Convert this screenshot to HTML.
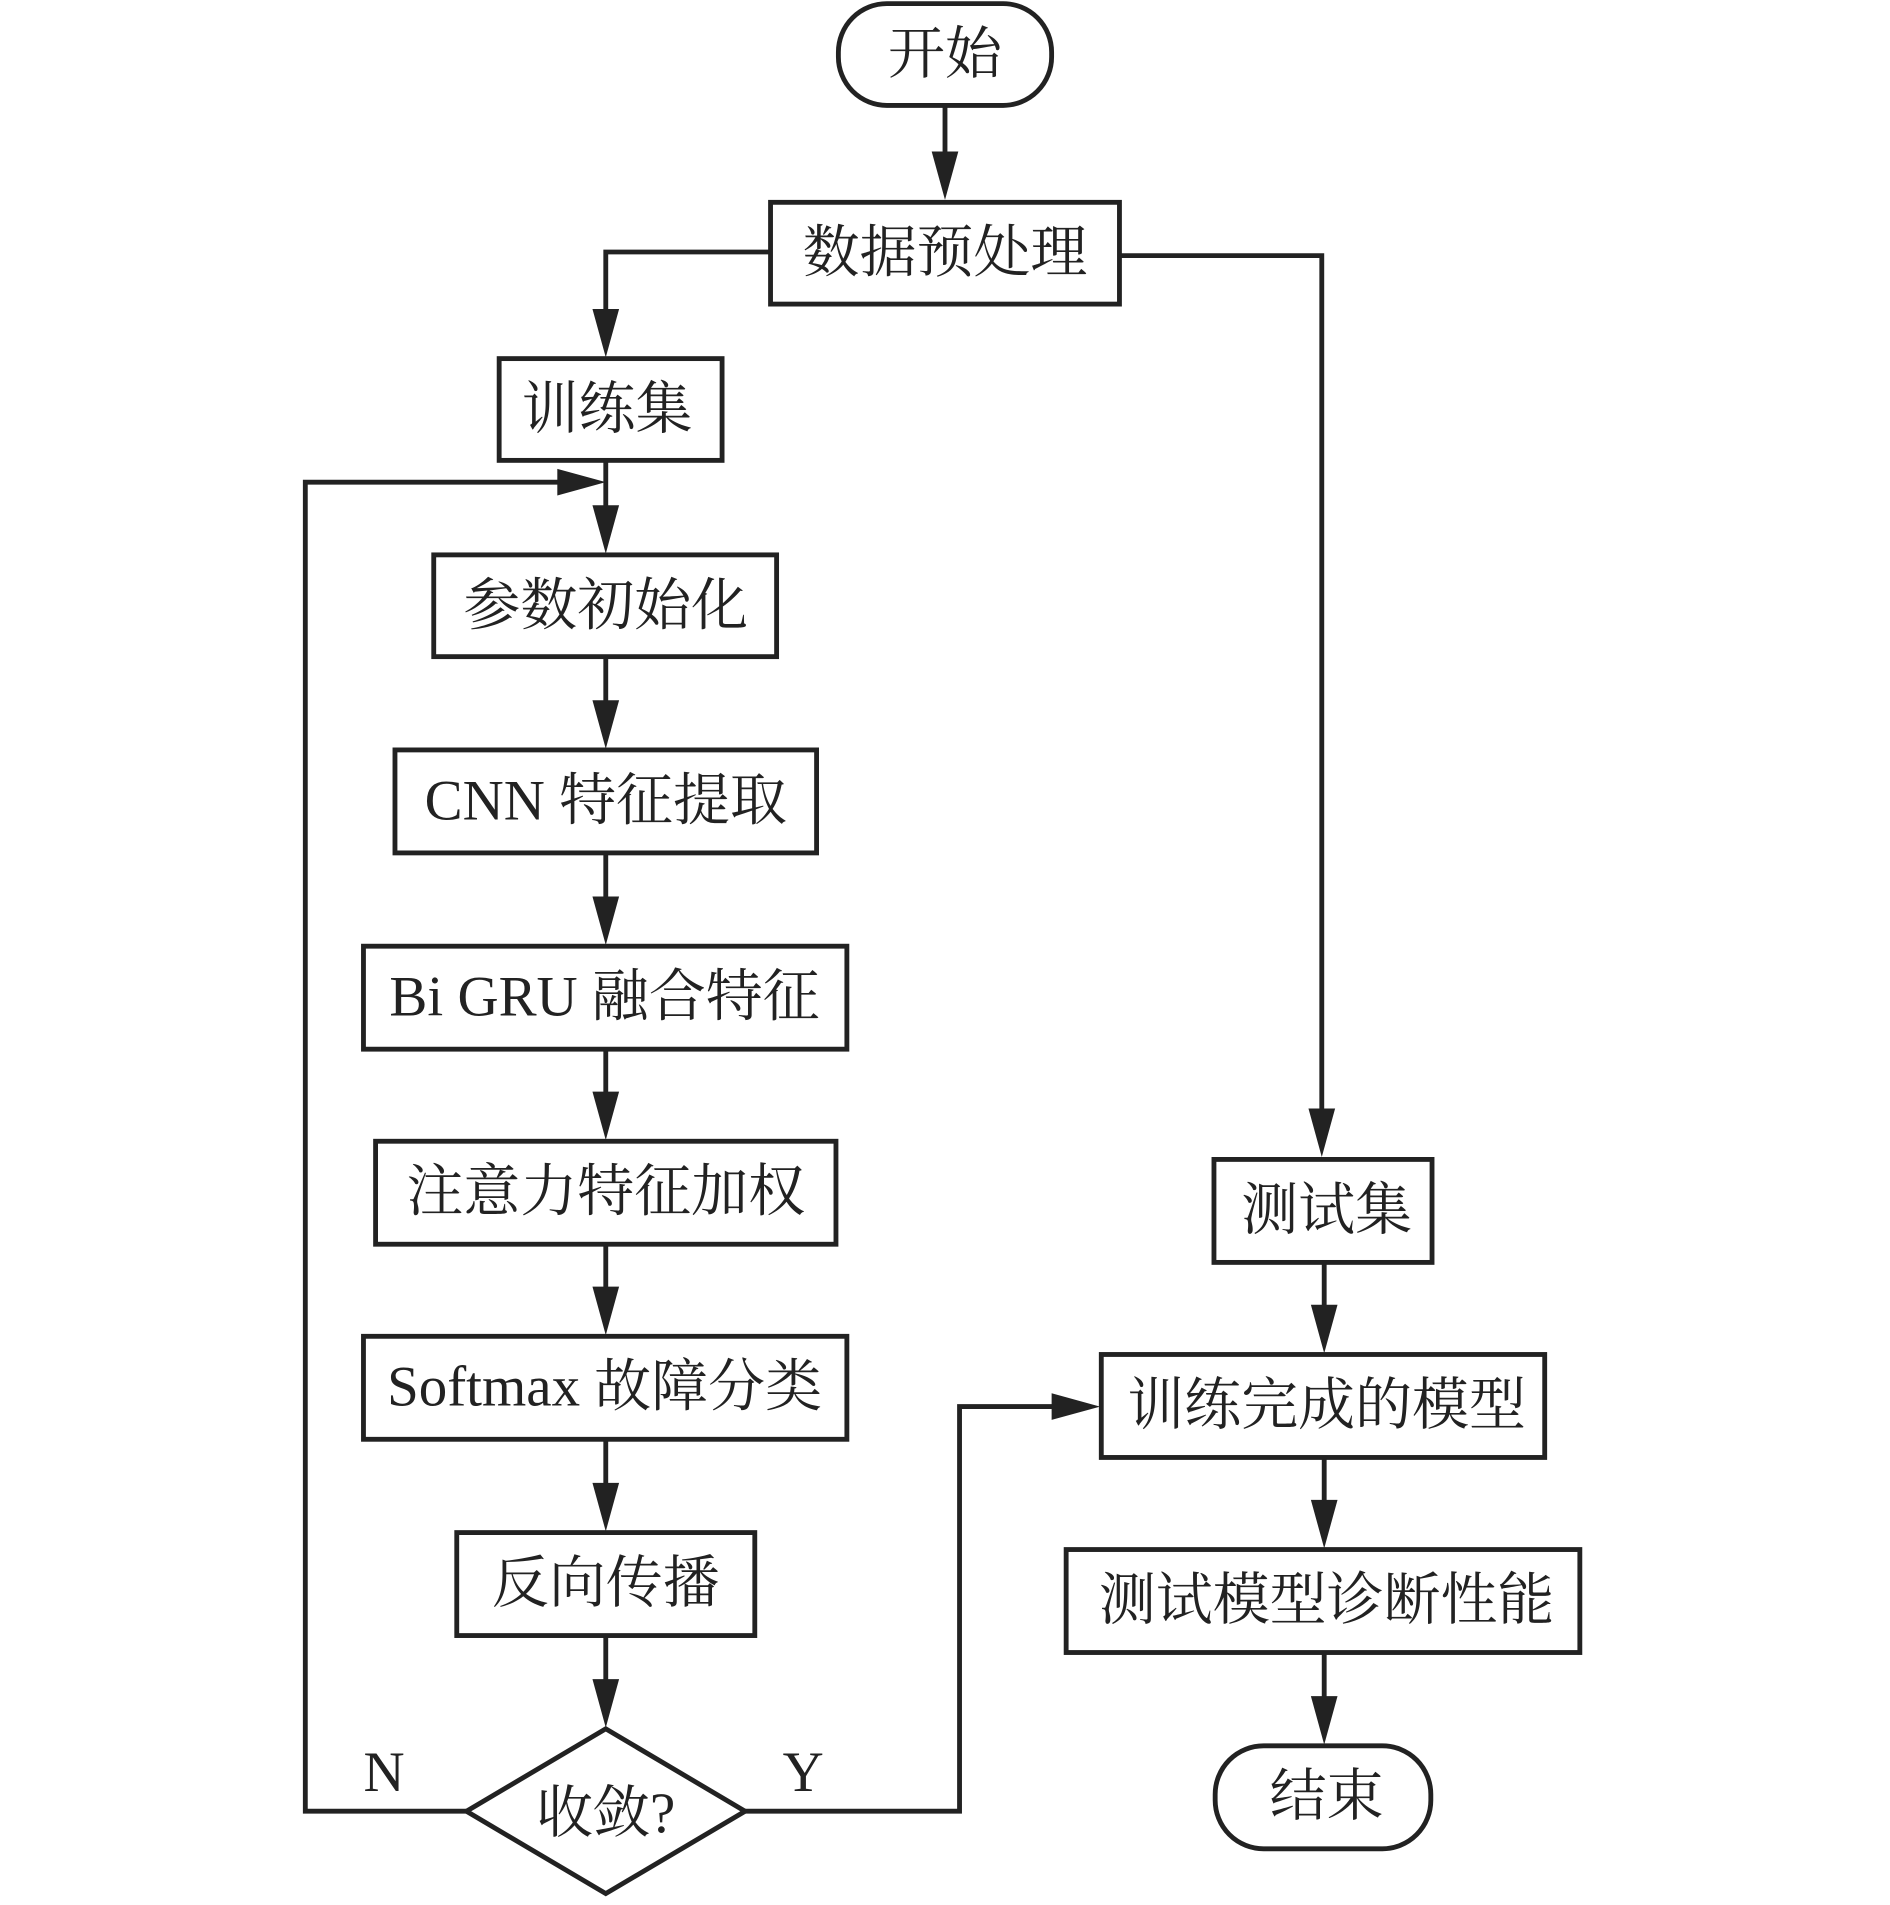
<!DOCTYPE html>
<html><head><meta charset="utf-8"><style>html,body{margin:0;padding:0;background:#fff}svg{display:block}</style></head>
<body>
<svg width="1890" height="1905" viewBox="0 0 1560 1572.4" xmlns="http://www.w3.org/2000/svg">
<g fill="none" stroke="#222" stroke-width="4">
<rect x="692" y="3" width="176" height="84" rx="40"/>
<rect x="636" y="167" width="288" height="84"/>
<rect x="412" y="296" width="184" height="84"/>
<rect x="358" y="458" width="283" height="84"/>
<rect x="326" y="619" width="348" height="85"/>
<rect x="300" y="781" width="399" height="85"/>
<rect x="310" y="942" width="380" height="85"/>
<rect x="300" y="1103" width="399" height="85"/>
<rect x="377" y="1265" width="246" height="85"/>
<path d="M500,1427 L615,1495 L500,1563 L385,1495 Z"/>
<rect x="1002" y="957" width="180" height="85"/>
<rect x="909" y="1118" width="366" height="85"/>
<rect x="880" y="1279" width="424" height="85"/>
<rect x="1003" y="1441" width="178" height="85" rx="40"/>
<path d="M780,87 V140"/>
<path d="M636,208 H500 V270"/>
<path d="M924,211 H1091 V930"/>
<path d="M500,380 V432"/>
<path d="M385,1495 H252 V398 H475"/>
<path d="M500,542 V593"/>
<path d="M500,704 V755"/>
<path d="M500,866 V916"/>
<path d="M500,1027 V1077"/>
<path d="M500,1188 V1239"/>
<path d="M500,1350 V1401"/>
<path d="M615,1495 H792 V1161 H883"/>
<path d="M1093,1042 V1092"/>
<path d="M1093,1203 V1253"/>
<path d="M1093,1364 V1415"/>
</g>
<g fill="#222">
<path d="M769,125 L780,165 L791,125 Z"/>
<path d="M489,255 L500,295 L511,255 Z"/>
<path d="M1080,915 L1091,955 L1102,915 Z"/>
<path d="M489,417 L500,457 L511,417 Z"/>
<path d="M460,387 L500,398 L460,409 Z"/>
<path d="M489,578 L500,618 L511,578 Z"/>
<path d="M489,740 L500,780 L511,740 Z"/>
<path d="M489,901 L500,941 L511,901 Z"/>
<path d="M489,1062 L500,1102 L511,1062 Z"/>
<path d="M489,1224 L500,1264 L511,1224 Z"/>
<path d="M489,1386 L500,1426 L511,1386 Z"/>
<path d="M868,1150 L908,1161 L868,1172 Z"/>
<path d="M1082,1077 L1093,1117 L1104,1077 Z"/>
<path d="M1082,1238 L1093,1278 L1104,1238 Z"/>
<path d="M1082,1400 L1093,1440 L1104,1400 Z"/>
</g>
<g font-family="'Liberation Serif','Noto Serif CJK SC',serif" font-size="47" fill="#222" text-anchor="middle" dominant-baseline="central">
<text x="780" y="45">开始</text>
<text x="780" y="209">数据预处理</text>
<text x="501" y="338">训练集</text>
<text x="500" y="500">参数初始化</text>
<text x="500" y="661">CNN 特征提取</text>
<text x="499" y="823">Bi GRU 融合特征</text>
<text x="500" y="984">注意力特征加权</text>
<text x="499" y="1145">Softmax 故障分类</text>
<text x="500" y="1307">反向传播</text>
<text x="500" y="1497">收敛?</text>
<text x="1095" y="999">测试集</text>
<text x="1095" y="1160">训练完成的模型</text>
<text x="1095" y="1321">测试模型诊断性能</text>
<text x="1095" y="1483">结束</text>
<text x="317" y="1463">N</text>
<text x="663" y="1463">Y</text>
</g>
</svg>
</body></html>
